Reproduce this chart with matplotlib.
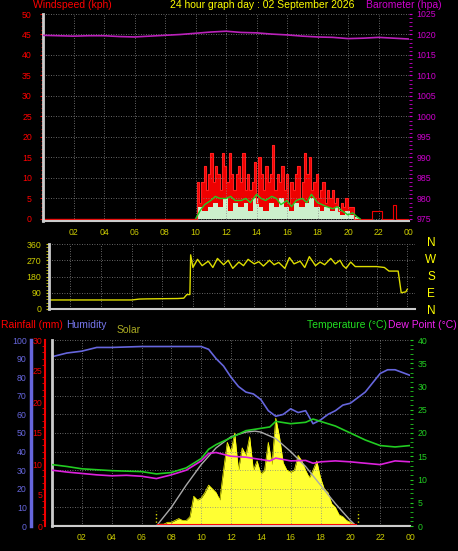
import matplotlib
matplotlib.use("Agg")
import matplotlib.pyplot as plt
import numpy as np

plt.rcParams['font.family'] = ['Liberation Sans', 'DejaVu Sans']
W, H = 458, 551
# ---------------- data ----------------
baro_h = [0, 1, 2, 3, 4, 5, 6, 7, 8, 9, 10, 11, 12, 13, 14, 15, 16, 17, 18, 19, 20, 21, 22, 23, 24]
baro = [1019.8, 1019.7, 1019.6, 1019.7, 1019.7, 1019.5, 1019.4, 1019.6, 1019.8, 1020.0, 1020.3, 1020.6, 1020.8, 1020.5, 1020.4, 1020.1, 1019.9, 1019.6, 1019.4, 1019.3, 1019.0, 1019.1, 1019.3, 1019.1, 1018.9]

gust_h = [10.0, 10.15, 10.3, 10.45, 10.6, 10.75, 10.9, 11.05, 11.2, 11.35, 11.5, 11.65, 11.8, 11.95, 12.1, 12.25, 12.4, 12.55, 12.7, 12.85, 13.0, 13.15, 13.3, 13.45, 13.6, 13.75, 13.9, 14.05, 14.2, 14.35, 14.5, 14.65, 14.8, 14.95, 15.1, 15.25, 15.4, 15.55, 15.7, 15.85, 16.0, 16.15, 16.3, 16.45, 16.6, 16.75, 16.9, 17.05, 17.2, 17.35, 17.5, 17.65, 17.8, 17.95, 18.1, 18.25, 18.4, 18.55, 18.7, 18.85, 19.0, 19.15, 19.3, 19.45, 19.6, 19.75, 19.9, 20.05, 20.2, 20.35, 20.5]
gust = [0, 9, 4, 9, 13, 7, 11, 16, 9, 13, 11, 7, 16, 13, 9, 16, 11, 7, 11, 13, 9, 16, 7, 11, 7, 9, 14, 4, 15, 11, 7, 13, 9, 11, 18, 7, 11, 9, 13, 7, 11, 4, 9, 7, 11, 13, 5, 9, 16, 11, 15, 7, 9, 11, 5, 7, 9, 4, 7, 5, 7, 4, 5, 2, 4, 3, 5, 3, 3, 3, 0]
gust_late_h = [20.5, 21.5, 21.6, 21.8, 22.0, 22.2, 22.3, 22.9, 23.0, 23.1, 23.2, 24]
gust_late = [0, 0, 2, 2, 2, 2, 0, 0, 3.5, 3.5, 0, 0]
avg_h = [10.0, 10.3, 10.6, 11.0, 11.3, 11.6, 12.0, 12.3, 12.6, 13.0, 13.3, 13.6, 14.0, 14.3, 14.6, 15.0, 15.3, 15.6, 16.0, 16.3, 16.6, 17.0, 17.3, 17.6, 18.0, 18.3, 18.6, 19.0, 19.3, 19.6, 20.0, 20.3, 20.6, 20.8]
avg = [0, 2, 3.5, 4.5, 5.5, 5, 5, 5.5, 4.5, 4.5, 5, 4, 6, 5, 4.5, 5.5, 5, 3.5, 4.5, 3, 4.5, 5, 4, 6, 4, 3.5, 3, 2.5, 3, 2, 1, 1.5, 0.5, 0]
spd = [0, 3, 2, 3, 4, 3, 5, 2, 4, 3, 4, 2, 5, 3, 2, 4, 3, 5, 3, 2, 4, 3, 4, 5, 3, 2, 3, 2, 3, 1, 2, 1, 0.5, 0]

dir_h = [0.6, 2, 4, 6, 6.5, 7, 8, 9, 9.4, 9.6, 9.8, 9.85, 10.0, 10.3, 10.6, 11.0, 11.3, 11.6, 12.0, 12.3, 12.6, 13.0, 13.3, 13.6, 14.0, 14.3, 14.6, 15.0, 15.3, 15.6, 16.0, 16.3, 16.6, 17.0, 17.3, 17.6, 18.0, 18.3, 18.6, 19.0, 19.3, 19.6, 19.8, 20.0, 20.3, 20.6, 20.8, 21.0, 22.0, 22.5, 22.8, 23.4, 23.6, 23.9, 24.0]
direc = [50, 50, 50, 50, 55, 56, 57, 58, 60, 80, 80, 300, 230, 275, 240, 265, 230, 280, 245, 270, 225, 260, 240, 275, 250, 262, 238, 270, 245, 258, 225, 285, 250, 265, 230, 290, 240, 260, 245, 280, 250, 270, 240, 225, 260, 235, 235, 235, 235, 230, 210, 210, 90, 95, 110]

temp_h = [0, 1, 2, 3, 4, 5, 6, 7, 8, 9, 10, 10.5, 11, 12, 13, 14, 14.6, 15, 16, 17, 17.5, 18, 19, 20, 21, 22, 23, 24]
temp = [13.2, 12.8, 12.3, 12.1, 11.9, 11.8, 11.7, 11.2, 11.5, 12.5, 14.5, 16.5, 17.5, 19.0, 20.5, 21.0, 21.3, 22.5, 22.0, 22.3, 23.0, 22.5, 21.5, 20.0, 18.5, 17.3, 17.0, 17.3]
dew = [12.0, 11.6, 11.3, 11.0, 10.8, 10.9, 10.7, 10.2, 11.0, 12.0, 14.0, 15.6, 15.8, 15.0, 14.8, 14.3, 14.0, 14.6, 14.0, 14.1, 13.5, 13.8, 14.0, 13.8, 13.5, 13.2, 14.0, 13.8]
hum_h = [0, 0.5, 1, 2, 3, 4, 6, 8, 10, 10.5, 11, 11.5, 12, 12.5, 13, 13.5, 14, 14.5, 15, 15.5, 16, 16.5, 17, 17.5, 18, 18.5, 19, 19.5, 20, 21, 22, 22.5, 23, 24]
hum = [91, 92, 93, 94, 96, 96, 96.5, 96.5, 96.5, 95, 90, 86, 80, 75, 72, 71, 68, 62, 59, 60, 63, 61, 62, 55, 57, 60, 62, 65, 66, 72, 82, 84, 84, 81]
solar_h = list(np.arange(7.0, 20.75, 0.25))
solar = [0, 1, 1, 2, 2, 3, 4, 3, 3, 5, 16, 14, 15, 18, 22, 20, 18, 14, 30, 45, 40, 50, 30, 42, 38, 48, 30, 35, 28, 30, 45, 33, 58, 48, 34, 30, 29, 30, 38, 35, 30, 26, 30, 35, 26, 20, 18, 12, 10, 6, 5, 3, 2, 1, 0]
clear_h = [7.0, 8, 9, 10, 11, 12, 13, 13.6, 14, 15, 16, 17, 18, 19, 20, 20.4]
clear = [0, 10, 22, 33, 42, 48, 50.5, 51, 50.5, 47, 40, 32, 22, 12, 3, 0]
rain_h = [0, 24]
rain = [0, 0]

hour_ticks = [2, 4, 6, 8, 10, 12, 14, 16, 18, 20, 22, 24]
hour_labels = ["02", "04", "06", "08", "10", "12", "14", "16", "18", "20", "22", "00"]

# ---------------- figure ----------------
fig = plt.figure(figsize=(W/100, H/100), dpi=100, facecolor="black")
FS = 6.3
TS = 7.5

def rect(l, t, r, b):
    return [l/W, 1-b/H, (r-l)/W, (b-t)/H]

def style(ax):
    ax.set_facecolor("black")
    for s in ax.spines.values():
        s.set_visible(False)
    ax.spines["left"].set_visible(True)
    ax.spines["left"].set_color("#cccccc")
    ax.spines["left"].set_linewidth(2)
    ax.spines["bottom"].set_visible(True)
    ax.spines["bottom"].set_color("#cccccc")
    ax.spines["bottom"].set_linewidth(1.5)
    ax.grid(True, color="#888888", linestyle=(0, (1, 2)), linewidth=0.6)
    ax.set_xticks(hour_ticks)
    ax.set_xticklabels(hour_labels)
    ax.tick_params(axis="x", colors="#cccc00", labelcolor="#cccc00", labelsize=FS, length=0, pad=5)

# --- top panel ---
ax1 = fig.add_axes(rect(43, 14, 409, 221))
style(ax1)
ax1.set_xlim(0, 24)
ax1.set_ylim(-0.5, 50)
ax1.set_yticks(range(0, 51, 5))
ax1.tick_params(axis="y", colors="red", labelcolor="red", labelsize=FS, length=2, pad=6)
ax1.set_yticks(np.arange(0, 50, 1), minor=True)
ax1.tick_params(axis="y", which="minor", colors="red", length=1.5)
ax1.fill_between(gust_h, gust, step="mid", color="#ee0000", linewidth=0)
ax1.step(gust_h, gust, where="mid", color="#ff2020", linewidth=0.8)
ax1.step(gust_late_h, gust_late, where="mid", color="#ee0000", linewidth=0.8)
ax1.fill_between(avg_h, spd, step="mid", color="#ccf0cc", linewidth=0)
ax1.plot(avg_h, avg, color="#22cc22", linewidth=1.0)
ax1.plot([0, 10], [0, 0], color="#ee0000", linewidth=1)
ax1.plot([0, 24], [-0.4, -0.4], color="#ccf0cc", linewidth=1.5)
ax1b = ax1.twinx()
ax1b.set_ylim(975 - 0.5, 1025)
ax1b.set_yticks(range(975, 1026, 5))
ax1b.set_yticks(np.arange(975, 1025, 1), minor=True)
ax1b.tick_params(axis="y", colors="#cc00cc", labelcolor="#cc00cc", labelsize=FS, length=2, which="both")
for s in ax1b.spines.values():
    s.set_visible(False)
ax1b.plot(baro_h, baro, color="#bb22bb", linewidth=1.2)
fig.text(33/W, 1-5/H, "Windspeed (kph)", color="red", fontsize=TS, va="center")
fig.text(170/W, 1-5/H, "24 hour graph day : 02 September 2026", color="#ffff00", fontsize=TS, va="center")
fig.text(366/W, 1-5/H, "Barometer (hpa)", color="#cc00cc", fontsize=TS, va="center")

# --- middle panel ---
ax2 = fig.add_axes(rect(49, 244, 415, 309))
style(ax2)
ax2.set_xlim(0.6, 24.5)
ax2.set_ylim(0, 360)
ax2.set_yticks([0, 90, 180, 270, 360])
ax2.set_yticks(range(0, 360, 18), minor=True)
ax2.tick_params(axis="y", which="both", colors="#cccc00", labelcolor="#cccc00", labelsize=FS, length=2)
ax2.tick_params(axis="x", labeltop=False, labelbottom=False)
ax2.plot(dir_h, direc, color="#dddd00", linewidth=1.0)
for yy, lab in zip([243, 260, 277, 294, 311], ["N", "W", "S", "E", "N"]):
    fig.text(431/W, 1-yy/H, lab, color="#ffff00", fontsize=8.5, ha="center", va="center")

# --- bottom panel ---
ax3 = fig.add_axes(rect(52, 340, 410, 526))
style(ax3)
ax3.set_xlim(0, 24)
ax3.set_ylim(0, 100)
ax3.set_yticks(range(0, 101, 10))
ax3.set_yticklabels([])
ax3.tick_params(axis="y", colors="red", length=0)
ax3.fill_between(solar_h, solar, color="#ffff33", linewidth=0)
ax3.plot(solar_h, solar, color="#ffff00", linewidth=0.5)
ax3.plot(clear_h, clear, color="#aaaaaa", linewidth=1.0)
ax3.plot([7.0, 7.0], [0, 8], color="#dddd00", linestyle=":", linewidth=1)
ax3.plot([20.5, 20.5], [0, 8], color="#dddd00", linestyle=":", linewidth=1)
ax3.plot([0, 24], [0, 0], color="#dddd88", linewidth=1.5)
ax3.plot([7.1, 20.4], [0.3, 0.3], color="#ff0000", linewidth=1.5)
ax3.plot(hum_h, hum, color="#6666dd", linewidth=1.2)
ax3t = ax3.twinx()
ax3t.set_ylim(0, 40)
ax3t.set_yticks(range(0, 41, 5))
ax3t.set_yticks(range(0, 40, 1), minor=True)
ax3t.tick_params(axis="y", which="both", colors="#22cc22", labelcolor="#22cc22", labelsize=FS, length=2)
for s in ax3t.spines.values():
    s.set_visible(False)
ax3t.plot(temp_h, temp, color="#22cc22", linewidth=1.2)
ax3t.plot(temp_h, dew, color="#dd22dd", linewidth=1.2)

# humidity axis (blue)
axh = fig.add_axes(rect(31, 340, 32, 526))
axh.set_ylim(0, 100)
axh.set_facecolor("none")
for s in axh.spines.values():
    s.set_visible(False)
axh.spines["left"].set_visible(True)
axh.spines["left"].set_color("#6666dd")
axh.spines["left"].set_linewidth(2.5)
axh.set_xticks([])
axh.set_yticks(range(0, 101, 10))
axh.tick_params(axis="y", colors="#6666dd", labelcolor="#6666dd", labelsize=FS, length=0, pad=3)
# rainfall axis (red)
axr = fig.add_axes(rect(45, 340, 46, 526))
axr.set_ylim(0, 30)
axr.set_facecolor("none")
for s in axr.spines.values():
    s.set_visible(False)
axr.spines["left"].set_visible(True)
axr.spines["left"].set_color("#ee0000")
axr.spines["left"].set_linewidth(1.5)
axr.set_xticks([])
axr.set_yticks(range(0, 31, 5))
axr.set_yticks(range(0, 30, 1), minor=True)
axr.tick_params(axis="y", which="minor", colors="#ee0000", length=2, direction="out")
axr.tick_params(axis="y", which="major", colors="#ee0000", labelcolor="#ee0000", labelsize=FS, length=0, pad=2)

fig.text(1/W, 1-325/H, "Rainfall (mm)", color="red", fontsize=TS, va="center")
fig.text(66/W, 1-325/H, "Humidity", color="#7777ee", fontsize=TS, va="center")
fig.text(117/W, 1-330/H, "Solar", color="#aaaa22", fontsize=TS, va="center")
fig.text(307/W, 1-325/H, "Temperature (°C)", color="#22dd22", fontsize=TS, va="center")
fig.text(457/W, 1-325/H, "Dew Point (°C)", color="#ee22ee", fontsize=TS, va="center", ha="right")

fig.savefig("out.png", dpi=100, facecolor="black")
